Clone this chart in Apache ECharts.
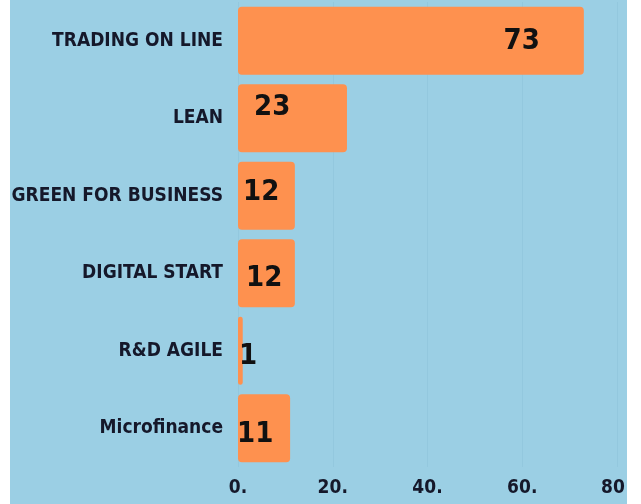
<!DOCTYPE html>
<html>
<head>
<meta charset="UTF-8">
<title>Bar chart</title>
<style>
html,body{margin:0;padding:0;background:#fff;}
#picContainer{width:641px;height:504px;}
</style>
</head>
<body>
<div id="picContainer"></div>
<script src="https://cdn.jsdelivr.net/npm/echarts@6/dist/echarts.min.js"></script>
<script>
var categories = ['TRADING ON LINE', 'LEAN', 'GREEN FOR BUSINESS', 'DIGITAL START', 'R&D AGILE', 'Microfinance'];
var values = [73, 23, 12, 12, 1, 11];
var xTicks = [0, 20, 40, 60, 80];

main();
function main(){
    var font = '"Liberation Sans Narrow", "DejaVu Sans Condensed", "Liberation Sans", sans-serif';
    // where each value label sits in the original picture
    var labelPlace = [
        {position: 'insideRight', offset: [-39, 1]},
        {position: 'insideLeft', offset: [11, -11]},
        {position: 'insideLeft', offset: [0, -3]},
        {position: 'insideLeft', offset: [3, 5]},
        {position: 'insideLeft', offset: [-4, 6]},
        {position: 'insideLeft', offset: [-6, 6]}
    ];
    var data = [];
    for (var i = 0; i < values.length; i++) {
        data.push({value: values[i], label: labelPlace[i]});
    }
    var myChart = echarts.init(document.getElementById('picContainer'));
    var option = {
        backgroundColor: '#fff',
        textStyle: {fontFamily: font},
        graphic: [{
            type: 'rect',
            z: -10,
            silent: true,
            shape: {x: 10, y: 0, width: 617, height: 504},
            style: {fill: '#9bcfe4'}
        }],
        grid: {left: 238, right: 24, top: 2, bottom: 37, containLabel: false, outerBoundsMode: 'none'},
        xAxis: {
            type: 'value',
            min: xTicks[0],
            max: xTicks[xTicks.length - 1],
            interval: 20,
            axisLine: {show: false},
            axisTick: {show: false},
            splitLine: {lineStyle: {color: '#93c8de', width: 1}},
            axisLabel: {
                margin: 12,
                color: '#15182a',
                fontSize: 19,
                fontWeight: 'bold',
                fontFamily: font,
                formatter: function (v) {
                    return v === 80 ? '{last|80}' : v + '.';
                },
                rich: {
                    last: {fontSize: 19, fontWeight: 'bold', fontFamily: font, color: '#15182a', padding: [0, 8, 0, 0]}
                }
            }
        },
        yAxis: {
            type: 'category',
            inverse: true,
            data: categories,
            axisLine: {show: false},
            axisTick: {show: false},
            axisLabel: {
                margin: 15,
                color: '#15182a',
                fontSize: 19,
                fontWeight: 'bold',
                fontFamily: font
            }
        },
        series: [{
            type: 'bar',
            barCategoryGap: '12%',
            itemStyle: {color: '#fe914f', borderRadius: 4},
            label: {
                show: true,
                color: '#111111',
                fontSize: 29,
                fontWeight: 'bold',
                fontFamily: font,
                formatter: '{c}'
            },
            data: data
        }]
    };
    myChart.setOption(option);
}
</script>
</body>
</html>
